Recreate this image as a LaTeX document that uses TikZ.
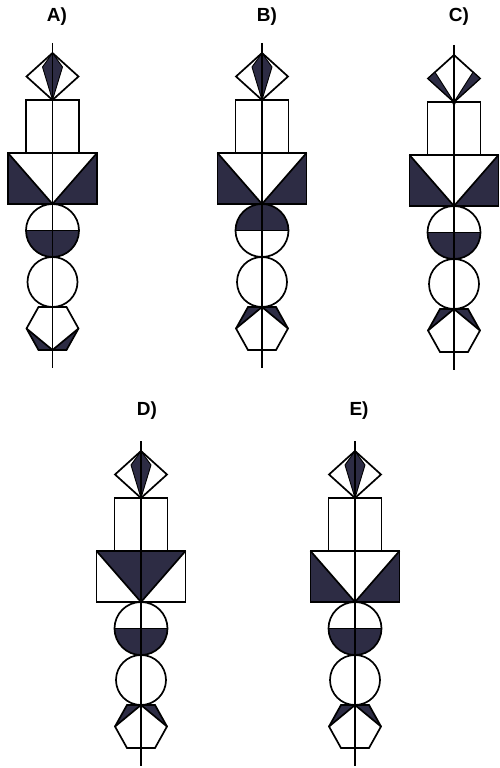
\documentclass[tikz,border=0pt]{standalone}
\usepackage{fontspec}
\setmainfont{Liberation Sans}
\definecolor{dk}{RGB}{45,44,68}
\tikzset{
  x=1pt, y=-1pt,
  ln/.style={line width=1.7pt, line join=miter},
  thin/.style={line width=0.9pt, line join=miter},
  axisline/.style={line width=1.4pt},
  lab/.style={font=\bfseries\fontsize{19}{19}\selectfont, inner sep=0pt},
}
% #1 axis x, #2 top y, #3 diamond (0 kite,1 wedges), #4 big rect (0 corners,1 inverted), #5 circle (0 bottom,1 top), #6 hexagon (0 bottom,1 top)
\newcommand\drawfig[6]{%
\begin{scope}[shift={(#1,#2)}]
  % diamond
  \draw[ln] (0,0)--(26,23.5)--(0,47)--(-26,23.5)--cycle;
  \ifnum#3=0
    \filldraw[thin,fill=dk] (0,0)--(-10,14)--(0,47)--(10,14)--cycle;
  \else
    \filldraw[thin,fill=dk] (-26,23.5)--(-19,17.2)--(0,47)--cycle;
    \filldraw[thin,fill=dk] (26,23.5)--(19,17.2)--(0,47)--cycle;
  \fi
  % tall rectangle
  \draw[ln] (-26.5,47) rectangle (26.5,100);
  % big rectangle
  \ifnum#4=0
    \fill[dk] (-44.5,100)--(-44.5,151)--(0,151)--cycle;
    \fill[dk] (44.5,100)--(44.5,151)--(0,151)--cycle;
  \else
    \fill[dk] (-44.5,100)--(44.5,100)--(0,151)--cycle;
  \fi
  \draw[ln] (-44.5,100) rectangle (44.5,151);
  \draw[ln] (-44.5,100)--(0,151)--(44.5,100);
  % circle 1 (half filled)
  \begin{scope}
    \ifnum#5=0
      \clip (-30,177.5) rectangle (30,210);
    \else
      \clip (-30,145) rectangle (30,177.5);
    \fi
    \fill[dk] (0,177.5) circle (26.5pt);
  \end{scope}
  \draw[ln] (0,177.5) circle (26.5pt);
  \draw[ln] (-26.5,177.5)--(26.5,177.5);
  % circle 2
  \draw[ln] (0,229) circle (25pt);
  % hexagon
  \ifnum#6=0
    \fill[dk] (-14,297)--(0,297)--(-26,275.5)--cycle;
    \fill[dk] (14,297)--(0,297)--(26,275.5)--cycle;
    \draw[ln] (-26,275.5)--(0,297)--(26,275.5);
  \else
    \fill[dk] (-14,254)--(0,254)--(-26,275.5)--cycle;
    \fill[dk] (14,254)--(0,254)--(26,275.5)--cycle;
    \draw[ln] (-26,275.5)--(0,254)--(26,275.5);
  \fi
  \draw[ln] (-14,254)--(14,254)--(26,275.5)--(14,297)--(-14,297)--(-26,275.5)--cycle;
  % axis
  \draw[axisline] (0,-10)--(0,315);
\end{scope}}
\begin{document}
\begin{tikzpicture}
  \useasboundingbox (0,0) rectangle (499,768);
  \fill[white] (0,0) rectangle (499,768);
  \drawfig{52.5}{53}{0}{0}{0}{0}
  \drawfig{262}{53}{0}{0}{1}{1}
  \drawfig{454}{55}{1}{0}{0}{1}
  \drawfig{141}{451}{0}{1}{0}{1}
  \drawfig{355}{451}{0}{0}{0}{1}
  \node[lab] (lA) at (57,17) {A)};
  \node[lab] (lB) at (267,17) {B)};
  \node[lab] (lC) at (459,17) {C)};
  \node[lab] (lD) at (147,411) {D)};
  \node[lab] (lE) at (359,411) {E)};
\end{tikzpicture}
\end{document}
